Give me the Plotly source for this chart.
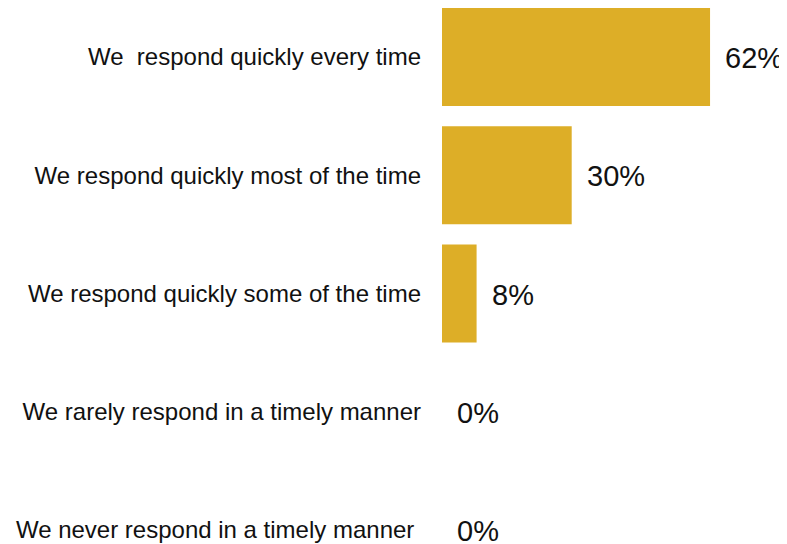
import plotly.graph_objects as go

categories = [
    "We\u00a0\u00a0respond quickly every time",
    "We respond quickly most of the time",
    "We respond quickly some of the time",
    "We rarely respond in a timely manner",
    "We never respond in a timely manner\u00a0",
]
values = [62, 30, 8, 0, 0]
value_labels = ["62%", "30%", "8%", "0%", "0%"]

FONT = "Arial, 'Liberation Sans', sans-serif"
BAR = "#DDAE27"

fig = go.Figure()
fig.add_trace(go.Bar(
    x=values, y=categories, orientation="h",
    marker=dict(color=BAR, line=dict(width=0)),
    width=0.83, hoverinfo="skip",
))

for c, v, t in zip(categories, values, value_labels):
    fig.add_annotation(
        x=v, y=c, text=t, showarrow=False, xanchor="left", yanchor="middle",
        xshift=13, yshift=-1, font=dict(family=FONT, size=29, color="#111111"),
    )

fig.update_layout(
    width=779, height=536,
    margin=dict(l=434, r=0, t=0, b=0),
    paper_bgcolor="white", plot_bgcolor="white",
    showlegend=False,
    font=dict(family=FONT, color="#111111"),
    xaxis=dict(range=[0, 79.8], visible=False, fixedrange=True),
    yaxis=dict(
        type="category", categoryorder="array", categoryarray=categories,
        range=[4.118, -0.414], showgrid=False, zeroline=False, showline=False,
        ticks="", ticklabelstandoff=20,
        tickfont=dict(family=FONT, size=24, color="#111111"),
    ),
)

fig.write_html("out.html")
